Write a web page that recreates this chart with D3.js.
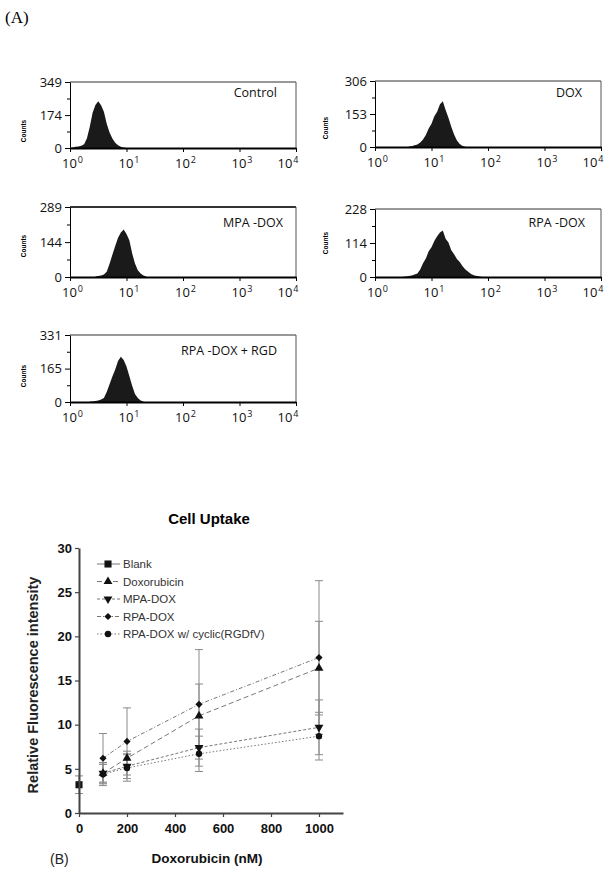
<!DOCTYPE html>
<html><head><meta charset="utf-8">
<script src="https://cdn.jsdelivr.net/npm/d3@7"></script>
<style>body{margin:0;background:#fff} svg{display:block}</style>
</head><body>
<svg id="c" width="614" height="877"></svg>
<script>
// ---------------- DATA ----------------
// (A) flow cytometry histograms
const histLabels = ["Control", "DOX", "MPA -DOX", "RPA -DOX", "RPA -DOX + RGD"];
const histMax = [349, 306, 289, 228, 331];
const histMid = [174, 153, 144, 114, 165];
const decadeTicks = [1, 10, 100, 1000, 10000];
const histStep = 0.05;               // bin width in log10 units
const histStartLog = [0.0, 0.6, 0.45, 0.5, 0.35];
const controlCounts = [0, 3, 6, 8, 12, 20, 52, 112, 186, 228, 247, 226, 192, 128, 82, 50, 28, 15, 7, 3, 0];
const doxCounts     = [2, 4, 8, 12, 21, 35, 56, 86, 108, 142, 163, 198, 212, 172, 136, 94, 58, 30, 14, 5, 1];
const mpaCounts     = [2, 4, 6, 10, 22, 55, 92, 128, 162, 184, 196, 178, 152, 98, 56, 28, 14, 6, 2];
const rpaCounts     = [1, 2, 3, 5, 8, 12, 25, 46, 62, 86, 100, 121, 137, 149, 156, 128, 116, 90, 76, 60, 50, 36, 25, 18, 10, 6, 3, 2, 0];
const rgdCounts     = [2, 3, 5, 8, 12, 20, 50, 88, 126, 160, 202, 224, 208, 176, 128, 80, 40, 20, 8, 2];
const histCounts = [controlCounts, doxCounts, mpaCounts, rpaCounts, rgdCounts];

// (B) cell uptake
const seriesNames = ["Blank", "Doxorubicin", "MPA-DOX", "RPA-DOX", "RPA-DOX w/ cyclic(RGDfV)"];
const blankDose = [0];
const blankVal = [3.2];
const blankErr = [1.0];
const doses = [100, 200, 500, 1000];
const doxVal = [4.5, 6.2, 11.0, 16.4];
const doxErr = [1.2, 0.8, 3.6, 5.3];
const mpaVal = [4.5, 5.3, 7.4, 9.7];
const mpaErr = [1.0, 1.4, 2.1, 3.1];
const rpaVal = [6.2, 8.1, 12.3, 17.6];
const rpaErr = [2.8, 3.8, 6.2, 8.7];
const rgdVal = [4.4, 5.1, 6.7, 8.7];
const rgdErr = [1.3, 1.5, 2.0, 2.7];
const yTicks = [0, 5, 10, 15, 20, 25, 30];
const xTicks = [0, 200, 400, 600, 800, 1000];

// ---------------- DRAW ----------------
const svg = d3.select("#c");
const histFont = "'Open Sans', 'Noto Sans', sans-serif";
const arial = "'Liberation Sans', Arial, sans-serif";

svg.append("text").attr("x", 5).attr("y", 23)
  .attr("font-family", "'Liberation Serif', 'Times New Roman', serif")
  .attr("font-size", 17).text("(A)");

const boxes = [
  {x0: 70,  x1: 296, y0: 82,  y1: 148, ldx: -19, ldy: 15, cx: 26,  cy: 131, top: 1},
  {x0: 375, x1: 601, y0: 81,  y1: 147, ldx: -19, ldy: 16, cx: 328, cy: 128, top: 1},
  {x0: 70,  x1: 296, y0: 207, y1: 277, ldx: -13, ldy: 20, cx: 26,  cy: 246, top: 2.2},
  {x0: 375, x1: 601, y0: 209, y1: 277, ldx: -16, ldy: 18, cx: 328, cy: 243, top: 1},
  {x0: 70,  x1: 296, y0: 335, y1: 402, ldx: -19, ldy: 20, cx: 26,  cy: 376, top: 1}
];

boxes.forEach((b, i) => {
  const g = svg.append("g");
  const x = d3.scaleLog().domain([1, 10000]).range([b.x0, b.x1]);
  const y = d3.scaleLinear().domain([0, histMax[i]]).range([b.y1, b.y0]);
  const pts = histCounts[i].map((c, k) => ({l: histStartLog[i] + k * histStep, c}));
  const area = d3.area()
    .x(d => x(Math.pow(10, d.l)))
    .y0(y(0)).y1(d => y(d.c));
  g.append("path").datum(pts).attr("d", area).attr("fill", "#1a1a1a");

  // frame top/right
  g.append("line").attr("x1", b.x0).attr("x2", b.x1).attr("y1", b.y0).attr("y2", b.y0)
    .attr("stroke", "#333").attr("stroke-width", b.top);
  g.append("line").attr("x1", b.x1).attr("x2", b.x1).attr("y1", b.y0).attr("y2", b.y1)
    .attr("stroke", "#555").attr("stroke-width", 1);

  // x axis
  const xa = g.append("g").attr("transform", `translate(0,${b.y1})`)
    .call(d3.axisBottom(x).tickValues(decadeTicks).tickSize(4).tickSizeOuter(0).tickFormat(() => ""));
  xa.select(".domain").attr("stroke", "#000").attr("stroke-width", 2);
  xa.selectAll(".tick line").attr("stroke", "#000");
  xa.selectAll(".tick").each(function(d) {
    const last = d === 10000;
    const t = d3.select(this).append("text")
      .attr("x", last ? 2 : 2).attr("y", 20).attr("text-anchor", last ? "end" : "middle")
      .attr("font-family", histFont).attr("font-size", 13).attr("fill", "#111");
    t.append("tspan").text("10");
    t.append("tspan").attr("dx", 1).attr("dy", -5).attr("font-size", 9).text(Math.round(Math.log10(d)));
  });

  // y axis
  const ya = g.append("g").attr("transform", `translate(${b.x0},0)`)
    .call(d3.axisLeft(y).tickValues([0, histMid[i], histMax[i]]).tickSize(5).tickSizeOuter(0).tickPadding(3));
  ya.select(".domain").attr("stroke", "#000").attr("stroke-width", 1);
  ya.selectAll(".tick text").attr("font-family", histFont).attr("font-size", 13).attr("fill", "#111");
  const ym = g.append("g").attr("transform", `translate(${b.x0},0)`)
    .call(d3.axisLeft(y).tickValues([histMax[i] / 4, histMax[i] * 3 / 4]).tickSize(3).tickFormat(() => ""));
  ym.select(".domain").remove();

  g.append("text").attr("x", b.x1 + b.ldx).attr("y", b.y0 + b.ldy)
    .attr("text-anchor", "end").attr("font-family", histFont).attr("font-size", 12.5)
    .attr("fill", "#111").text(histLabels[i]);

  g.append("text").attr("transform", `translate(${b.cx},${b.cy}) rotate(-90)`)
    .attr("text-anchor", "middle").attr("font-family", arial).attr("font-weight", "bold")
    .attr("font-size", 6.5).text("Counts");
});

// ---------------- (B) ----------------
const X = d3.scaleLinear().domain([0, 1100]).range([79, 343]);
const Y = d3.scaleLinear().domain([0, 30]).range([813, 548]);
const gb = svg.append("g");

gb.append("text").attr("x", 209).attr("y", 524).attr("text-anchor", "middle")
  .attr("font-family", arial).attr("font-weight", "bold").attr("font-size", 15).text("Cell Uptake");

const series = [
  {name: seriesNames[0], xs: blankDose, v: blankVal, e: blankErr, dash: null, sym: "square"},
  {name: seriesNames[1], xs: doses, v: doxVal, e: doxErr, dash: "5,3", sym: "tri"},
  {name: seriesNames[2], xs: doses, v: mpaVal, e: mpaErr, dash: "3,2", sym: "tridown"},
  {name: seriesNames[3], xs: doses, v: rpaVal, e: rpaErr, dash: "4,2,1,2", sym: "diamond"},
  {name: seriesNames[4], xs: doses, v: rgdVal, e: rgdErr, dash: "1.5,2", sym: "circle"}
];

function symPath(s) {
  if (s === "square") return d3.symbol(d3.symbolSquare, 50)();
  if (s === "tri" || s === "tridown") return d3.symbol(d3.symbolTriangle, 34)();
  if (s === "diamond") return d3.symbol(d3.symbolSquare, 26)();
  return d3.symbol(d3.symbolCircle, 32)();
}
function symRot(s) { return s === "tridown" ? 180 : s === "diamond" ? 45 : 0; }

// error bars
series.forEach(s => {
  s.xs.forEach((xv, k) => {
    const px = X(xv), top = Y(s.v[k] + s.e[k]), bot = Y(s.v[k] - s.e[k]);
    gb.append("line").attr("x1", px).attr("x2", px).attr("y1", top).attr("y2", bot)
      .attr("stroke", "#8a8a8a").attr("stroke-width", 1);
    [top, bot].forEach(yy => gb.append("line").attr("x1", px - 4).attr("x2", px + 4)
      .attr("y1", yy).attr("y2", yy).attr("stroke", "#8a8a8a").attr("stroke-width", 1));
  });
});

// lines
series.forEach(s => {
  if (s.xs.length < 2) return;
  const pts = s.xs.map((xv, k) => [X(xv), Y(s.v[k])]);
  gb.append("path").attr("d", d3.line()(pts)).attr("fill", "none")
    .attr("stroke", "#777").attr("stroke-width", 1).attr("stroke-dasharray", s.dash);
});

// markers
series.forEach(s => {
  s.xs.forEach((xv, k) => {
    gb.append("path").attr("d", symPath(s.sym))
      .attr("transform", `translate(${X(xv)},${Y(s.v[k])}) rotate(${symRot(s.sym)})`)
      .attr("fill", "#111");
  });
});

// axes
const yax = gb.append("g").attr("transform", "translate(79,0)")
  .call(d3.axisLeft(Y).tickValues(yTicks).tickSize(4).tickSizeOuter(0).tickPadding(3));
const xax = gb.append("g").attr("transform", "translate(0,813)")
  .call(d3.axisBottom(X).tickValues(xTicks).tickSize(4).tickSizeOuter(0).tickPadding(7)
    .tickFormat(d3.format("d")));
[yax, xax].forEach(a => {
  a.select(".domain").attr("stroke", "#444").attr("stroke-width", 2);
  a.selectAll(".tick line").attr("stroke", "#444").attr("stroke-width", 1.2);
  a.selectAll(".tick text").attr("font-family", arial).attr("font-weight", "bold")
    .attr("font-size", 13).attr("fill", "#111");
});

gb.append("text").attr("transform", "translate(38,685) rotate(-90)").attr("text-anchor", "middle")
  .attr("font-family", arial).attr("font-weight", "bold").attr("font-size", 14.5)
  .attr("fill", "#222").text("Relative Fluorescence intensity");
gb.append("text").attr("x", 207).attr("y", 863).attr("text-anchor", "middle")
  .attr("font-family", arial).attr("font-weight", "bold").attr("font-size", 13.5)
  .attr("fill", "#111").text("Doxorubicin (nM)");
gb.append("text").attr("x", 50).attr("y", 864)
  .attr("font-family", arial).attr("font-size", 14).attr("fill", "#222").text("(B)");

// legend
series.forEach((s, i) => {
  const ly = 564 + i * 17.5;
  gb.append("line").attr("x1", 97).attr("x2", 120).attr("y1", ly).attr("y2", ly)
    .attr("stroke", "#777").attr("stroke-width", 1).attr("stroke-dasharray", s.dash);
  gb.append("path").attr("d", symPath(s.sym))
    .attr("transform", `translate(108,${ly}) rotate(${symRot(s.sym)})`).attr("fill", "#111");
  gb.append("text").attr("x", 123).attr("y", ly + 4).attr("font-family", arial)
    .attr("font-size", 11.5).attr("fill", "#333").text(s.name);
});
</script>
</body></html>
